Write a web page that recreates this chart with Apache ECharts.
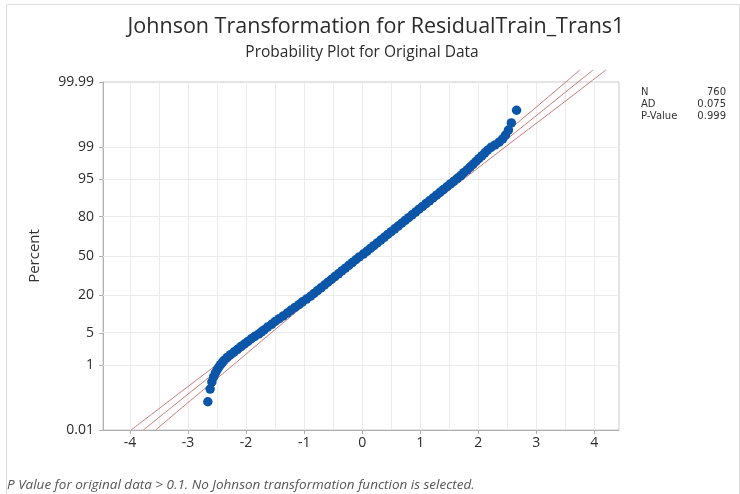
<!DOCTYPE html>
<html><head><meta charset="utf-8">
<script src="https://cdn.jsdelivr.net/npm/echarts@6/dist/echarts.min.js"></script>
<style>html,body{margin:0;padding:0;background:#fff}#c{width:740px;height:494px}</style>
</head><body><div id="c"></div>
<script>
// ---- data ----
const xValues = [
  -2.66,-2.62,-2.59,-2.56,-2.53,-2.50,-2.47,-2.44,-2.41,-2.38,
  -2.33,-2.27,-2.21,-2.15,-2.09,-2.03,-1.97,-1.91,-1.85,-1.78,
  -1.735,-1.69,-1.63,-1.56,-1.50,-1.43,-1.36,-1.29,-1.23,-1.16,
  -1.09,-1.03,-0.96,-0.89,-0.83,-0.77,-0.71,-0.65,-0.59,-0.53,
  -0.47,-0.41,-0.35,-0.29,-0.23,-0.17,-0.11,-0.05,0.02,0.08,
  0.14,0.20,0.26,0.32,0.38,0.44,0.50,0.56,0.62,0.68,
  0.74,0.80,0.86,0.92,0.98,1.04,1.10,1.16,1.22,1.28,
  1.34,1.40,1.46,1.52,1.58,1.64,1.70,1.75,1.81,1.86,
  1.91,1.96,2.01,2.06,2.11,2.16,2.22,2.29,2.36,2.42,
  2.47,2.52,2.57,2.66
];
const percentValues = [
  0.092,0.223,0.355,0.486,0.618,0.749,0.881,1.01,1.14,1.28,
  1.5,1.75,2.0,2.3,2.65,3.0,3.4,3.85,4.3,4.8,
  5.25,5.71,6.43,7.22,8.08,9.01,10.03,11.12,12.30,13.57,
  14.92,16.35,17.88,19.49,21.19,22.97,24.83,26.76,28.77,30.85,
  33.00,35.20,37.45,39.74,42.07,44.43,46.81,49.20,51.60,53.98,
  56.36,58.71,61.03,63.31,65.54,67.72,69.85,71.90,73.89,75.80,
  77.64,79.39,81.06,82.64,84.13,85.54,86.86,88.10,89.25,90.32,
  91.31,92.22,93.06,93.82,94.52,95.15,95.73,96.25,96.71,97.13,
  97.50,97.83,98.12,98.38,98.61,98.81,98.99,99.12,99.25,99.382,
  99.514,99.645,99.777,99.908
];
// fitted line and confidence bounds (x read at these percents)
const bandPercents = [0.01, 0.1, 1, 5, 20, 50, 80, 95, 99, 99.9, 99.99, 99.9965];
const fitLineX   = [-3.77, -3.14, -2.37, -1.68, -0.87, -0.025, 0.82, 1.63, 2.32, 3.09, 3.72, 3.98];
const lowerLineX = [-3.98, -3.32, -2.51, -1.80, -0.96, -0.10, 0.74, 1.52, 2.17, 2.91, 3.51, 3.75];
const upperLineX = [-3.56, -2.96, -2.22, -1.57, -0.79, 0.05, 0.91, 1.75, 2.46, 3.27, 3.93, 4.20];

const yTickPercents = [0.01, 1, 5, 20, 50, 80, 95, 99, 99.99];
const xTickValues = [-4, -3, -2, -1, 0, 1, 2, 3, 4];
const xGridValues = [-4, -3.5, -3, -2.5, -2, -1.5, -1, -0.5, 0, 0.5, 1, 1.5, 2, 2.5, 3, 3.5, 4];
const xRange = [-4.466, 4.425];

const titleText = 'Johnson Transformation for ResidualTrain_Trans1';
const subtitleText = 'Probability Plot for Original Data';
const yAxisTitle = 'Percent';
const statLabels = ['N', 'AD', 'P-Value'];
const statValues = ['760', '0.075', '0.999'];
const footnoteText = 'P Value for original data > 0.1. No Johnson transformation function is selected.';

// ---- normal probability scale ----
function probit(p){
  const a=[-3.969683028665376e+01,2.209460984245205e+02,-2.759285104469687e+02,1.383577518672690e+02,-3.066479806614716e+01,2.506628277459239e+00];
  const b=[-5.447609879822406e+01,1.615858368580409e+02,-1.556989798598866e+02,6.680131188771972e+01,-1.328068155288572e+01];
  const c=[-7.784894002430293e-03,-3.223964580411365e-01,-2.400758277161838e+00,-2.549732539343734e+00,4.374664141464968e+00,2.938163982698783e+00];
  const d=[7.784695709041462e-03,3.224671290700398e-01,2.445134137142996e+00,3.754408661907416e+00];
  const pl=0.02425, ph=1-pl; let q,r;
  if(p<pl){q=Math.sqrt(-2*Math.log(p));return (((((c[0]*q+c[1])*q+c[2])*q+c[3])*q+c[4])*q+c[5])/((((d[0]*q+d[1])*q+d[2])*q+d[3])*q+1);}
  if(p<=ph){q=p-0.5;r=q*q;return (((((a[0]*r+a[1])*r+a[2])*r+a[3])*r+a[4])*r+a[5])*q/(((((b[0]*r+b[1])*r+b[2])*r+b[3])*r+b[4])*r+1);}
  q=Math.sqrt(-2*Math.log(1-p));return -(((((c[0]*q+c[1])*q+c[2])*q+c[3])*q+c[4])*q+c[5])/((((d[0]*q+d[1])*q+d[2])*q+d[3])*q+1);
}
const zOf = pct => probit(pct / 100);
const yTickZ = yTickPercents.map(zOf);
const yMin = zOf(yTickPercents[0]), yMax = zOf(yTickPercents[yTickPercents.length - 1]);

const points = xValues.map((x, i) => [x, zOf(percentValues[i])]);
const mkLine = xs => bandPercents.map((p, i) => [xs[i], zOf(p)]);

const FONT = '"Open Sans", "Noto Sans", sans-serif';
const STATFONT = '"DejaVu Sans", Verdana, sans-serif';
const chart = echarts.init(document.getElementById('c'), null, {renderer: 'canvas'});
const refLineStyle = {color: '#cc7a7a', width: 1};
const refLine = xs => ({type: 'line', data: mkLine(xs), symbol: 'none', smooth: 0.35, clip: false, lineStyle: refLineStyle, z: 2, silent: true});

chart.setOption({
  animation: false,
  backgroundColor: '#ffffff',
  grid: {left: 103, right: 121, top: 82, bottom: 64, show: true, borderColor: '#c9c9c9', borderWidth: 1, backgroundColor: 'transparent'},
  xAxis: {
    type: 'value', min: xRange[0], max: xRange[1],
    axisLine: {show: true, onZero: false, lineStyle: {color: '#b0b0b0'}},
    axisTick: {show: true, length: 4, customValues: xTickValues, lineStyle: {color: '#b0b0b0'}},
    axisLabel: {customValues: xTickValues, color: '#2b2b2b', fontFamily: FONT, fontSize: 14, margin: 6},
    splitLine: {show: false}
  },
  yAxis: {
    type: 'value', min: yMin, max: yMax,
    axisLine: {show: true, onZero: false, lineStyle: {color: '#b0b0b0'}},
    axisTick: {show: true, length: 4, customValues: yTickZ, lineStyle: {color: '#b0b0b0'}},
    axisLabel: {
      customValues: yTickZ, color: '#2b2b2b', fontFamily: FONT, fontSize: 14, margin: 9,
      formatter: v => {
        let best = 0;
        yTickZ.forEach((z, i) => { if (Math.abs(z - v) < Math.abs(yTickZ[best] - v)) best = i; });
        return String(yTickPercents[best]);
      }
    },
    splitLine: {show: false}
  },
  series: [
    {
      type: 'line', data: [], z: 1, silent: true,
      markLine: {
        z: 1, silent: true, symbol: 'none', label: {show: false}, animation: false,
        lineStyle: {color: '#ececec', width: 1, type: 'solid'},
        emphasis: {disabled: true},
        data: xGridValues.map(v => ({xAxis: v})).concat(yTickZ.slice(1, -1).map(v => ({yAxis: v})))
      }
    },
    refLine(lowerLineX),
    refLine(fitLineX),
    refLine(upperLineX),
    {type: 'scatter', data: points, symbol: 'circle', symbolSize: 9.5, itemStyle: {color: '#0b56a8', opacity: 1}, z: 3, silent: true}
  ],
  graphic: [
    {type: 'rect', shape: {x: 6.5, y: 4.5, width: 733, height: 492}, style: {fill: 'none', stroke: '#dcdcdc', lineWidth: 1}, silent: true},
    {type: 'text', x: 376, y: 27, style: {text: titleText, font: '21.5px ' + FONT, fill: '#2b2b2b', textAlign: 'center', textVerticalAlign: 'middle'}},
    {type: 'text', x: 362, y: 53, style: {text: subtitleText, font: '15.5px ' + FONT, fill: '#2b2b2b', textAlign: 'center', textVerticalAlign: 'middle'}},
    {type: 'text', x: 35, y: 256, rotation: Math.PI / 2, style: {text: yAxisTitle, font: '15px ' + FONT, fill: '#333', textAlign: 'center', textVerticalAlign: 'middle'}},
    {type: 'text', x: 7, y: 485, style: {text: footnoteText, font: 'italic 13.5px ' + FONT, fill: '#555', textAlign: 'left', textVerticalAlign: 'middle'}},
    ...statLabels.map((t, i) => ({type: 'text', x: 641, y: 92 + i * 12, style: {text: t, font: '10px ' + STATFONT, fill: '#333', textAlign: 'left', textVerticalAlign: 'middle'}})),
    ...statValues.map((t, i) => ({type: 'text', x: 726, y: 92 + i * 12, style: {text: t, font: '10px ' + STATFONT, fill: '#333', textAlign: 'right', textVerticalAlign: 'middle'}}))
  ]
});
</script>
</body></html>
